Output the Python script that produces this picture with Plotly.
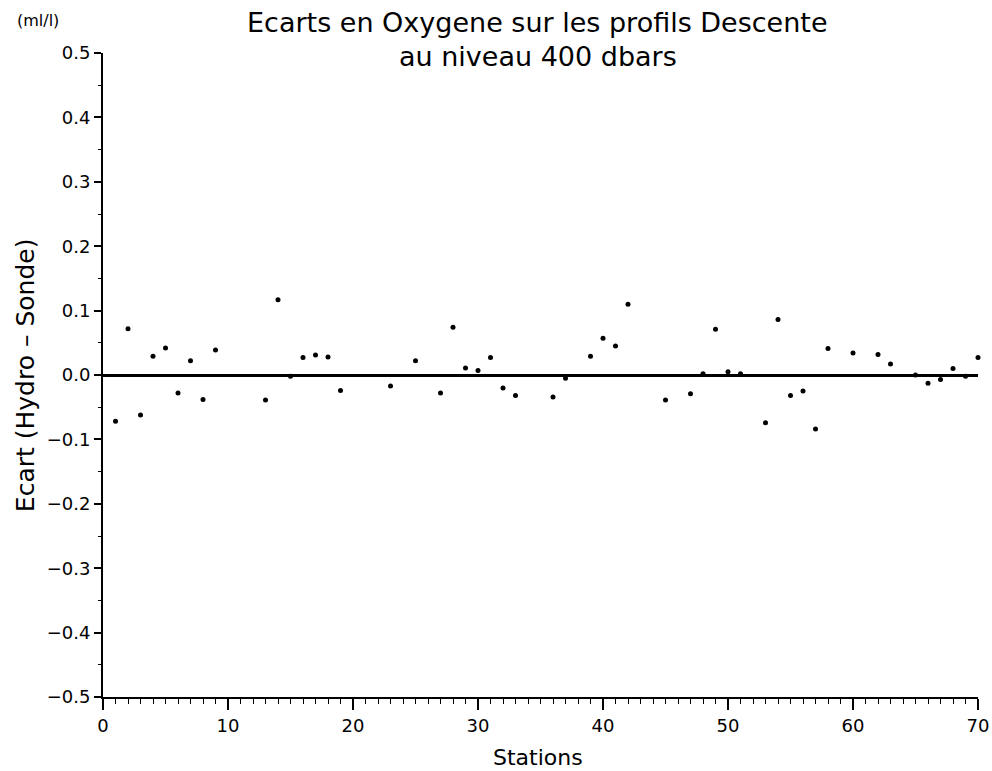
import plotly.graph_objects as go

stations = [1, 2, 3, 4, 5, 6, 7, 8, 9, 13, 14, 15, 16, 17, 18, 19, 23, 25, 27, 28, 29, 30, 31, 32, 33,
            36, 37, 39, 40, 41, 42, 45, 47, 48, 49, 50, 51, 53, 54, 55, 56, 57, 58, 60, 62, 63,
            65, 66, 67, 68, 69, 70]
ecarts = [-0.072, 0.072, -0.062, 0.029, 0.042, -0.028, 0.022, -0.038, 0.039, -0.039, 0.117, -0.002,
          0.027, 0.031, 0.028, -0.024, -0.017, 0.022, -0.028, 0.074, 0.011, 0.007, 0.027, -0.020,
          -0.032, -0.034, -0.005, 0.029, 0.057, 0.045, 0.110, -0.039, -0.029, 0.002, 0.071, 0.005,
          0.002, -0.074, 0.086, -0.032, -0.025, -0.084, 0.041, 0.034, 0.032, 0.017, 0.0, -0.013,
          -0.007, 0.010, -0.002, 0.027]

y_ticks = [-0.5, -0.4, -0.3, -0.2, -0.1, 0.0, 0.1, 0.2, 0.3, 0.4, 0.5]
y_tick_labels = ["\u22120.5", "\u22120.4", "\u22120.3", "\u22120.2", "\u22120.1", "0.0",
                 "0.1", "0.2", "0.3", "0.4", "0.5"]
x_ticks = [0, 10, 20, 30, 40, 50, 60, 70]

FONT = "DejaVu Sans"

fig = go.Figure()
fig.add_trace(go.Scatter(
    x=stations, y=ecarts, mode="markers",
    marker=dict(color="black", size=5),
    cliponaxis=False, showlegend=False,
))

fig.update_layout(
    width=992, height=771,
    margin=dict(l=103, r=14, t=53, b=74),
    paper_bgcolor="white", plot_bgcolor="white",
    font=dict(family=FONT, color="black", size=16),
    xaxis=dict(
        range=[0, 70], tickvals=x_ticks, ticks="outside", ticklen=11, tickwidth=1.5,
        tickcolor="black", showline=True, linecolor="black", linewidth=2,
        showgrid=False, zeroline=False, tickfont=dict(size=18), ticklabeloverflow="allow",
        automargin=False,
        minor=dict(dtick=1, ticks="outside", ticklen=5, tickwidth=1, tickcolor="black"),
    ),
    yaxis=dict(
        range=[-0.5, 0.5], tickvals=y_ticks, ticktext=y_tick_labels, ticks="outside",
        ticklen=7, tickwidth=1.5, tickcolor="black", showline=True, linecolor="black",
        linewidth=2, showgrid=False, zeroline=True, zerolinecolor="black", zerolinewidth=2.5,
        tickfont=dict(size=18), ticklabeloverflow="allow", automargin=False,
        minor=dict(dtick=0.05, ticks="outside", ticklen=3, tickwidth=1, tickcolor="black"),
    ),
)

annotations = [
    dict(text="Ecarts en Oxygene sur les profils Descente", x=0.497, y=1.047, size=27),
    dict(text="au niveau 400 dbars", x=0.497, y=0.995, size=27),
    dict(text="(ml/l)", x=-0.074, y=1.051, size=16),
    dict(text="Stations", x=0.497, y=-0.094, size=22),
]
for a in annotations:
    fig.add_annotation(text=a["text"], x=a["x"], y=a["y"], xref="paper", yref="paper",
                       showarrow=False, xanchor="center", yanchor="middle",
                       font=dict(size=a["size"], family=FONT, color="black"))
fig.add_annotation(text="Ecart (Hydro \u2013 Sonde)", x=-0.089, y=0.5, xref="paper", yref="paper",
                   showarrow=False, textangle=-90, xanchor="center", yanchor="middle",
                   font=dict(size=25, family=FONT, color="black"))

fig.write_html("out.html")
